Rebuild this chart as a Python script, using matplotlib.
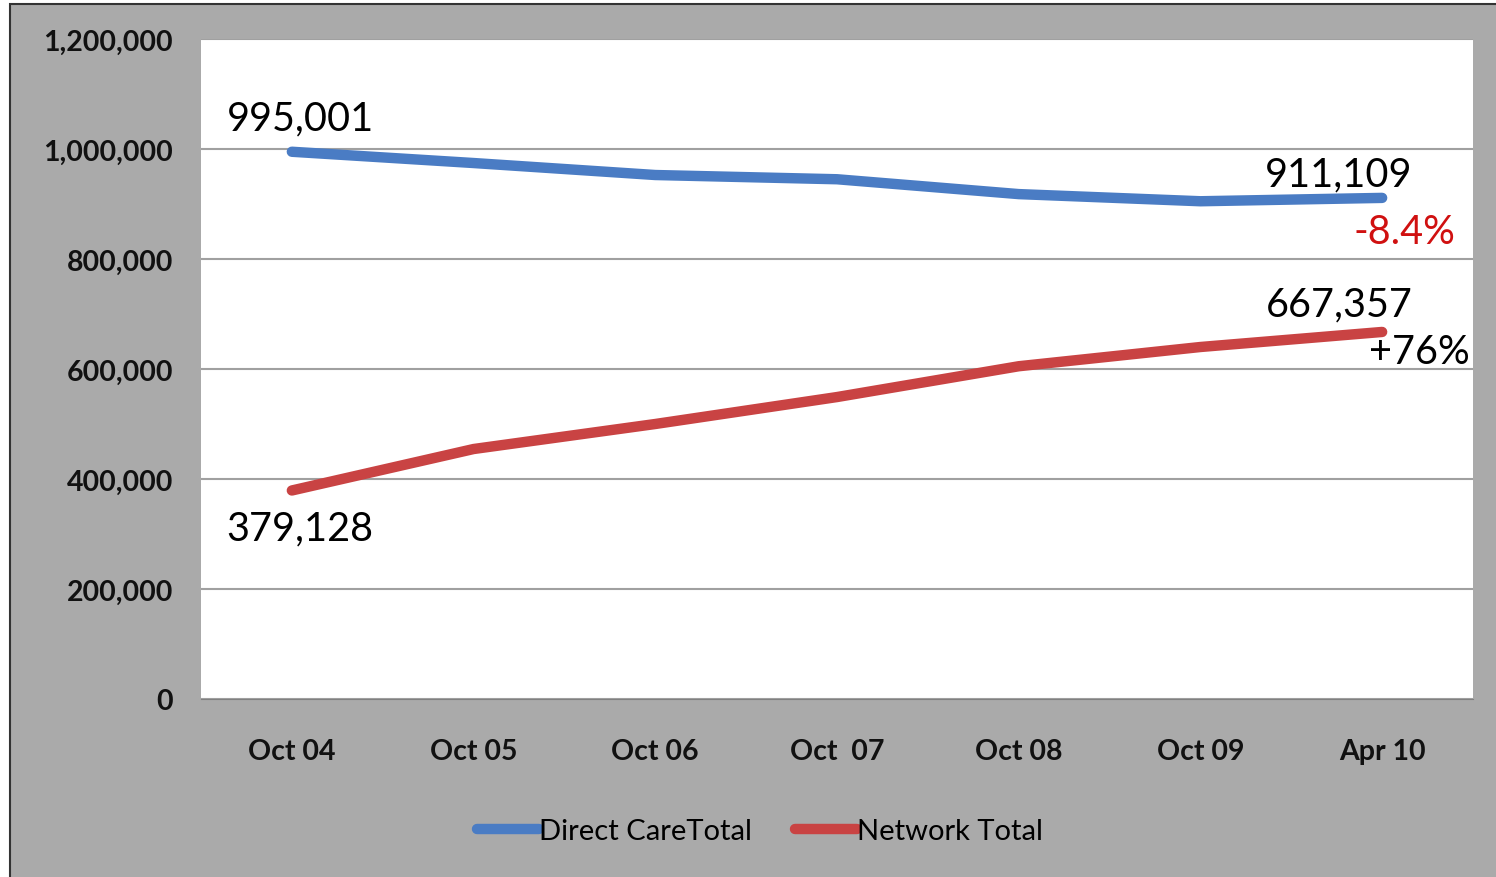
import matplotlib.pyplot as plt
from matplotlib.patches import Rectangle
from matplotlib.ticker import FuncFormatter

# datos
periodos = ['Oct 04', 'Oct 05', 'Oct 06', 'Oct  07', 'Oct 08', 'Oct 09', 'Apr 10']
direct_care = [995001, 974500, 952700, 945000, 918000, 905000, 911109]
network = [379128, 454500, 500000, 549000, 605000, 640000, 667357]
y_ticks = [0, 200000, 400000, 600000, 800000, 1000000, 1200000]

azul = '#4a7cc4'
rojo = '#c94343'
gris = '#aaaaaa'

plt.rcParams['font.family'] = ['Lato', 'DejaVu Sans']

fig = plt.figure(figsize=(14.96, 8.78), dpi=100)
fig.patch.set_facecolor('white')
# fondo gris del area del grafico con borde
fig.patches.append(Rectangle((10/1496, -0.01), 1.02, 1 - 5/878 + 0.01,
                             transform=fig.transFigure, facecolor=gris,
                             edgecolor='#333333', linewidth=1.5, zorder=-1))

ax = fig.add_axes([201/1496, 1 - 700/878, 1272/1496, 660/878])
ax.set_facecolor('white')
x = list(range(len(periodos)))

ax.plot(x, direct_care, color=azul, linewidth=7.5, solid_capstyle='round', label='Direct CareTotal', zorder=3)
ax.plot(x, network, color=rojo, linewidth=7.5, solid_capstyle='round', label='Network Total', zorder=3)

ax.set_xlim(-0.5, len(periodos) - 0.5)
ax.set_ylim(0, 1200000)
ax.set_yticks(y_ticks)
ax.yaxis.set_major_formatter(FuncFormatter(lambda v, p: '{:,.0f}'.format(v)))
ax.set_xticks(x)
ax.set_xticklabels(periodos)
ax.grid(axis='y', color='#a0a0a0', linewidth=1.5)
ax.set_axisbelow(True)
for s in ['top', 'right', 'left']:
    ax.spines[s].set_visible(False)
ax.spines['bottom'].set_color('#808080')
ax.tick_params(axis='both', length=0, labelsize=20.5, colors='#111111')
ax.tick_params(axis='y', pad=20)
ax.tick_params(axis='x', pad=28)
for lab in ax.get_xticklabels() + ax.get_yticklabels():
    lab.set_fontweight('bold')

# etiquetas de datos
kw = dict(textcoords='offset points', ha='center', va='center', fontsize=28.5, color='black')
ax.annotate('{:,}'.format(direct_care[0]), (0, direct_care[0]), xytext=(6, 24), **kw)
ax.annotate('{:,}'.format(network[0]), (0, network[0]), xytext=(6, -27), **kw)
ax.annotate('{:,}'.format(direct_care[-1]), (6, direct_care[-1]), xytext=(-31, 17), **kw)
ax.annotate('{:,}'.format(network[-1]), (6, network[-1]), xytext=(-31, 20), **kw)
ax.annotate('-8.4%', (6, direct_care[-1]), xytext=(16, -24), textcoords='offset points',
            ha='center', va='center', fontsize=28.5, color='#d01010')
ax.annotate('+76%', (6, network[-1]), xytext=(27, -14), **kw)

fig.legend(loc='center', bbox_to_anchor=(0.508, 1 - 832/878), ncol=2, frameon=False,
           fontsize=21, handlelength=2.1, handletextpad=0.0, columnspacing=1.5)

plt.savefig('out.png', dpi=100, facecolor=fig.get_facecolor())
